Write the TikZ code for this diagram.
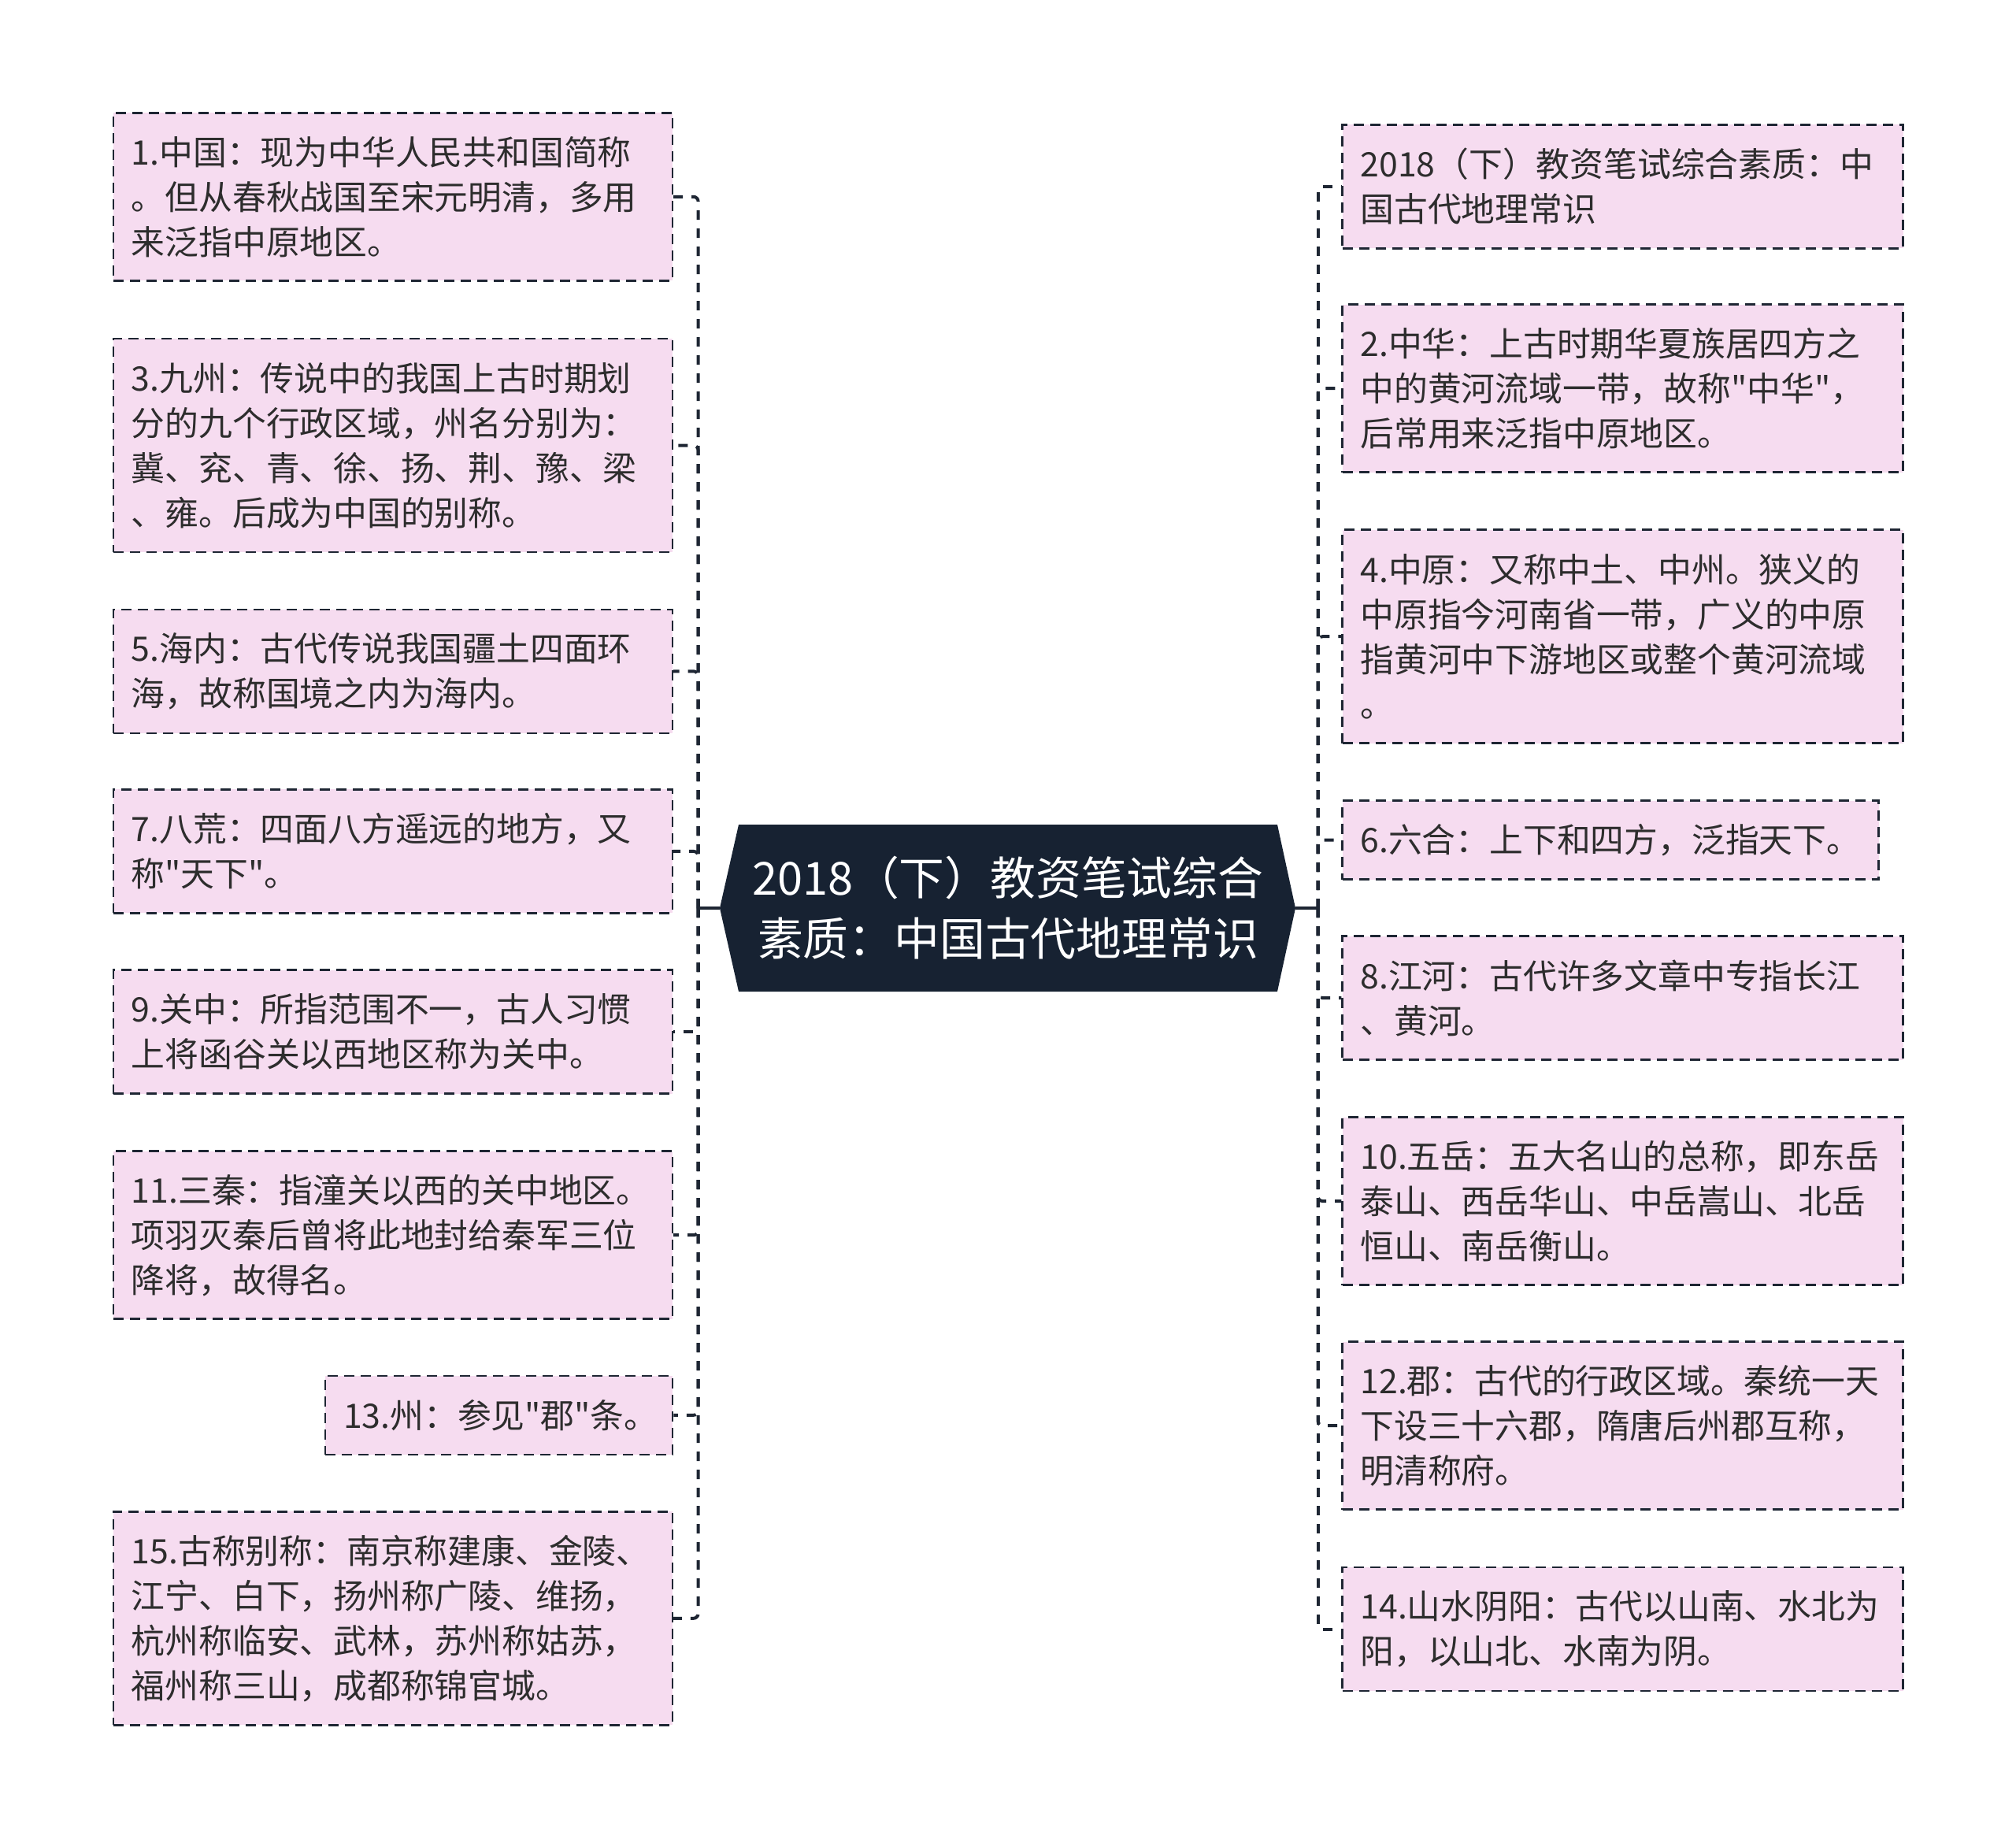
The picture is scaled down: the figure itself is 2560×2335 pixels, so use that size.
\documentclass[tikz,border=0pt]{standalone}
\usepackage{fontspec}
\setmainfont{Noto Sans CJK SC}[Ligatures=TeXOff]
\usetikzlibrary{calc}
\definecolor{pinkc}{RGB}{246,220,240}
\definecolor{linec}{RGB}{30,38,51}
\definecolor{rootc}{RGB}{23,34,50}
\definecolor{textc}{RGB}{45,45,45}
\newcommand{\leaffont}{\fontsize{21.4pt}{28.5pt}\selectfont}
\newcommand{\rootfont}{\fontsize{28.9pt}{38.4pt}\selectfont}
\tikzset{
  leaf/.style={draw=linec, line width=1.25pt, dash pattern=on 6.5pt off 4pt,
    fill=pinkc, text=textc, font=\leaffont, inner xsep=11.5pt, inner ysep=0pt,
    align=left, anchor=center},
  lwide/.style={minimum width=355pt, text width=332pt},
  rwide/.style={minimum width=356pt, text width=333pt},
  hone/.style={minimum height=50pt},
  htwo/.style={minimum height=78.5pt},
  hthree/.style={minimum height=106.5pt},
  hfour/.style={minimum height=135.5pt},
  conn/.style={draw=linec, line width=2pt, dash pattern=on 6pt off 5.5pt, rounded corners=3pt},
  stub/.style={draw=linec, line width=2pt},
  rootbox/.style={text=white, font=\rootfont, align=center, inner sep=0pt,
    minimum width=342pt, minimum height=106pt}
}
\begin{document}
\begin{tikzpicture}[x=0.5pt,y=-0.5pt]
\useasboundingbox[fill=white] (0,0) rectangle (2560,2335);

% root shape
\fill[rootc] (938,1047) -- (1622,1047) -- (1645,1153) -- (1622,1259)
  -- (938,1259) -- (914,1153) -- cycle;
\node[rootbox] (root) at (1280,1153) {2018（下）教资笔试综合\\素质：中国古代地理常识};
\coordinate (rootW) at (914,1153);
\coordinate (rootE) at (1645,1153);

\coordinate (lsp) at (886.6,1153);
\coordinate (rsp) at (1673.5,1153);

% left leaves
\node[leaf,lwide,hthree] (l1) at (498.8,249.8) {1.中国：现为中华人民共和国简称\\。但从春秋战国至宋元明清，多用\\来泛指中原地区。};
\node[leaf,lwide,hfour] (l3) at (498.8,565.7) {3.九州：传说中的我国上古时期划\\分的九个行政区域，州名分别为：\\冀、兖、青、徐、扬、荆、豫、梁\\、雍。后成为中国的别称。};
\node[leaf,lwide,htwo] (l5) at (498.8,852.3) {5.海内：古代传说我国疆土四面环\\海，故称国境之内为海内。};
\node[leaf,lwide,htwo] (l7) at (498.8,1080.9) {7.八荒：四面八方遥远的地方，又\\称"天下"。};
\node[leaf,lwide,htwo] (l9) at (498.8,1310.2) {9.关中：所指范围不一，古人习惯\\上将函谷关以西地区称为关中。};
\node[leaf,lwide,hthree] (l11) at (498.8,1568.2) {11.三秦：指潼关以西的关中地区。\\项羽灭秦后曾将此地封给秦军三位\\降将，故得名。};
\node[leaf,hone,minimum width=220.5pt,text width=197.5pt] (l13) at (633.5,1796.8) {13.州：参见"郡"条。};
\node[leaf,lwide,hfour] (l15) at (498.8,2054.8) {15.古称别称：南京称建康、金陵、\\江宁、白下，扬州称广陵、维扬，\\杭州称临安、武林，苏州称姑苏，\\福州称三山，成都称锦官城。};

% right leaves
\node[leaf,rwide,htwo] (r0) at (2060.5,236.8) {2018（下）教资笔试综合素质：中\\国古代地理常识};
\node[leaf,rwide,hthree] (r2) at (2060.5,493.1) {2.中华：上古时期华夏族居四方之\\中的黄河流域一带，故称"中华"，\\后常用来泛指中原地区。};
\node[leaf,rwide,hfour] (r4) at (2060.5,808.2) {4.中原：又称中土、中州。狭义的\\中原指今河南省一带，广义的中原\\指黄河中下游地区或整个黄河流域\\。};
\node[leaf,hone,minimum width=340.5pt,text width=317.5pt] (r6) at (2045,1066.5) {6.六合：上下和四方，泛指天下。};
\node[leaf,rwide,htwo] (r8) at (2060.5,1267) {8.江河：古代许多文章中专指长江\\、黄河。};
\node[leaf,rwide,hthree] (r10) at (2060.5,1525) {10.五岳：五大名山的总称，即东岳\\泰山、西岳华山、中岳嵩山、北岳\\恒山、南岳衡山。};
\node[leaf,rwide,hthree] (r12) at (2060.5,1810) {12.郡：古代的行政区域。秦统一天\\下设三十六郡，隋唐后州郡互称，\\明清称府。};
\node[leaf,rwide,htwo] (r14) at (2060.5,2068.7) {14.山水阴阳：古代以山南、水北为\\阳，以山北、水南为阴。};

% connectors
\draw[stub] (rootW) -- (lsp);
\draw[stub] (rootE) -- (rsp);
\foreach \n in {l1,l3,l5,l7,l9,l11,l13,l15} \draw[conn] (lsp) |- (\n.east);
\foreach \n in {r0,r2,r4,r6,r8,r10,r12,r14} \draw[conn] (rsp) |- (\n.west);
\end{tikzpicture}
\end{document}
